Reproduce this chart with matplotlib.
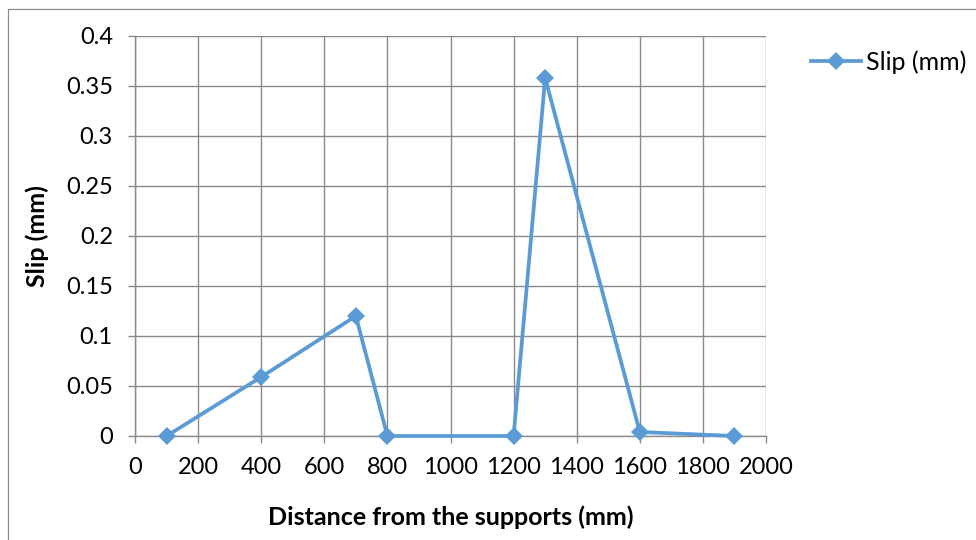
import matplotlib
matplotlib.use("Agg")
import matplotlib.pyplot as plt
from matplotlib.patches import Rectangle

# Slip measured along the member
distance_mm = [100, 400, 700, 800, 1200, 1300, 1600, 1900]
slip_mm = [0.0, 0.059, 0.12, 0.0, 0.0, 0.358, 0.004, 0.0]

x_ticks = list(range(0, 2001, 200))
y_ticks = [0, 0.05, 0.1, 0.15, 0.2, 0.25, 0.3, 0.35, 0.4]
y_tick_labels = ["0", "0.05", "0.1", "0.15", "0.2", "0.25", "0.3", "0.35", "0.4"]

plt.rcParams["font.family"] = ["Lato", "DejaVu Sans"]

W, H = 976, 540
fig = plt.figure(figsize=(W / 100, H / 100), dpi=100)

# chart-area frame (only top and left edges fall inside the image)
fig.patches.append(Rectangle((8 / W, -0.1), 1.2, 1 - 9 / H + 0.1,
                             transform=fig.transFigure, fill=False,
                             edgecolor="#8c8c8c", linewidth=0.9))

ax = fig.add_axes([135 / W, 1 - 436 / H, (766 - 135) / W, (436 - 36) / H])

line_color = "#5b9bd5"
ax.plot(distance_mm, slip_mm, color=line_color, linewidth=2.7,
        marker="D", markersize=9, markeredgewidth=0, label="Slip (mm)",
        zorder=3, clip_on=False)

ax.set_xlim(0, 2000)
ax.set_ylim(0, 0.4)
ax.set_xticks(x_ticks)
ax.set_xticklabels([str(v) for v in x_ticks])
ax.set_yticks(y_ticks)
ax.set_yticklabels(y_tick_labels)

grid_color = "#8a8a8a"
ax.grid(True, color=grid_color, linewidth=1.0)
ax.set_axisbelow(True)
for side in ["top", "right"]:
    ax.spines[side].set_visible(False)
for side in ["left", "bottom"]:
    ax.spines[side].set_color(grid_color)
    ax.spines[side].set_linewidth(1.0)

ax.tick_params(axis="both", direction="out", length=5, width=1.0,
               color=grid_color, labelsize=17, labelcolor="black")
ax.tick_params(axis="y", pad=11)
ax.tick_params(axis="x", pad=10)

ax.set_xlabel("Distance from the supports (mm)", fontsize=18,
              fontweight="bold", labelpad=20)
ax.set_ylabel("Slip (mm)", fontsize=18, fontweight="bold", labelpad=12)

fig.legend(loc="center left", bbox_to_anchor=(811 / W, 1 - 62 / H),
           frameon=False, fontsize=18, handlelength=2.0, handletextpad=0.2,
           borderaxespad=0, borderpad=0)

fig.savefig("out.png", dpi=100, facecolor="white")
